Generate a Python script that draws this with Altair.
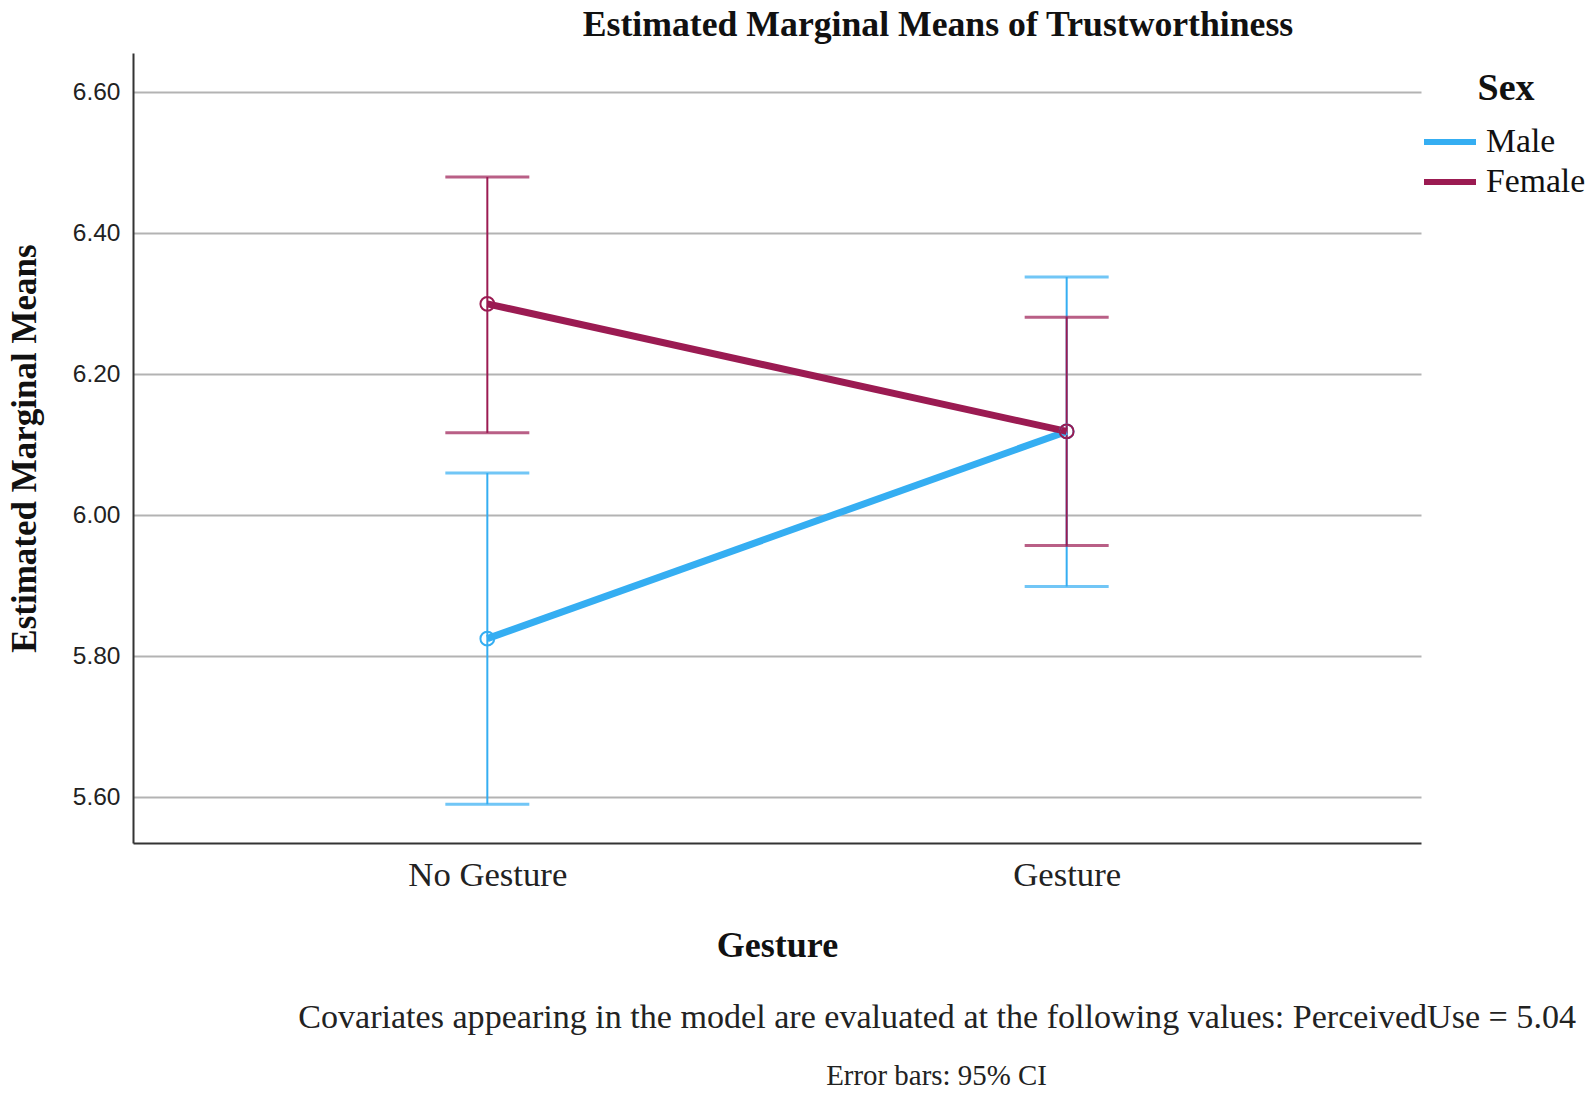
import altair as alt
import pandas as pd

# ---- data ----
gestures = ["No Gesture", "Gesture"]
sexes = ["Male", "Female"]
male_mean = [5.825, 6.119]
male_lower = [5.590, 5.899]
male_upper = [6.060, 6.338]
female_mean = [6.300, 6.119]
female_lower = [6.117, 5.957]
female_upper = [6.480, 6.281]
y_ticks = [5.60, 5.80, 6.00, 6.20, 6.40, 6.60]

rows = []
for i, g in enumerate(gestures):
    rows.append(dict(gesture=g, sex="Male", mean=male_mean[i], lo=male_lower[i], hi=male_upper[i]))
for i, g in enumerate(gestures):
    rows.append(dict(gesture=g, sex="Female", mean=female_mean[i], lo=female_lower[i], hi=female_upper[i]))
df = pd.DataFrame(rows)

colors = ["#35aef2", "#9b1b52"]
SERIF = "Liberation Serif"
SANS = "Liberation Sans"

legend = alt.Legend(
    title="Sex", orient="none", legendX=1294, legendY=17,
    symbolType="M-1.3,0H1.3", symbolSize=1600, symbolStrokeWidth=6, symbolOpacity=1,
    titleFont=SERIF, titleFontSize=38, titleFontWeight="bold", titleColor="#111",
    titleAnchor="middle", titleAlign="center", titlePadding=11,
    labelFont=SERIF, labelFontSize=33.7, labelColor="#111", labelOffset=13,
    rowPadding=-3, padding=0,
)

x_enc = alt.X(
    "gesture:N", sort=gestures,
    scale=alt.Scale(type="point", padding=0.6116),
    axis=alt.Axis(
        title="Gesture", labelAngle=0, ticks=False, grid=False,
        labelFont=SERIF, labelFontSize=34.7, labelColor="#222", labelPadding=15,
        titleFont=SERIF, titleFontSize=36, titleFontWeight="bold", titleColor="#111",
        titlePadding=37, domainColor="#333", domainWidth=2,
    ),
)
y_scale = alt.Scale(domain=[5.535, 6.656], nice=False, zero=False)
y_axis = alt.Axis(
    title="Estimated Marginal Means", values=y_ticks, format=".2f", ticks=False,
    grid=True, gridColor="#b3b3b3", gridWidth=2,
    labelFont=SANS, labelFontSize=24.5, labelColor="#222", labelPadding=13,
    titleFont=SERIF, titleFontSize=35, titleFontWeight="bold", titleColor="#111",
    titlePadding=30, domainColor="#333", domainWidth=2,
)
color_enc = alt.Color("sex:N", sort=sexes, scale=alt.Scale(domain=sexes, range=colors), legend=legend)

base = alt.Chart(df)

rules = base.mark_rule(strokeWidth=2).encode(
    x=x_enc, y=alt.Y("lo:Q", scale=y_scale, axis=y_axis), y2="hi:Q", color=color_enc
)
caps_lo = base.mark_tick(size=84, thickness=3, orient="horizontal").encode(
    x=x_enc, y=alt.Y("lo:Q", scale=y_scale, axis=y_axis), color=color_enc
)
caps_hi = base.mark_tick(size=84, thickness=3, orient="horizontal").encode(
    x=x_enc, y=alt.Y("hi:Q", scale=y_scale, axis=y_axis), color=color_enc
)
lines = base.mark_line(strokeWidth=7).encode(
    x=x_enc, y=alt.Y("mean:Q", scale=y_scale, axis=y_axis), color=color_enc,
    detail="sex:N",
)
points = base.mark_point(filled=False, size=190, strokeWidth=2, opacity=1).encode(
    x=x_enc, y=alt.Y("mean:Q", scale=y_scale, axis=y_axis), color=color_enc
)

one = pd.DataFrame({"k": [0]})
title_txt = alt.Chart(one).mark_text(
    text="Estimated Marginal Means of Trustworthiness", font=SERIF, fontSize=35.7,
    fontWeight="bold", color="#111", align="center", baseline="middle",
).encode(x=alt.value(805), y=alt.value(-28.5))
cov_txt = alt.Chart(one).mark_text(
    text="Covariates appearing in the model are evaluated at the following values: PerceivedUse = 5.04",
    font=SERIF, fontSize=34.1, color="#222", align="right", baseline="middle",
).encode(x=alt.value(1443), y=alt.value(965))
err_txt = alt.Chart(one).mark_text(
    text="Error bars: 95% CI", font=SERIF, fontSize=28.9, color="#222",
    align="center", baseline="middle",
).encode(x=alt.value(803.5), y=alt.value(1023))

chart = alt.layer(
    rules, caps_lo, caps_hi, lines, points, title_txt, cov_txt, err_txt
).properties(
    width=1288, height=790,
    autosize=alt.AutoSizeParams(type="none"),
    padding={"left": 125, "top": 45, "right": 166, "bottom": 245},
    background="white",
).configure_view(stroke=None)

chart.save("out.html", embed_options={"renderer": "svg", "actions": False})
